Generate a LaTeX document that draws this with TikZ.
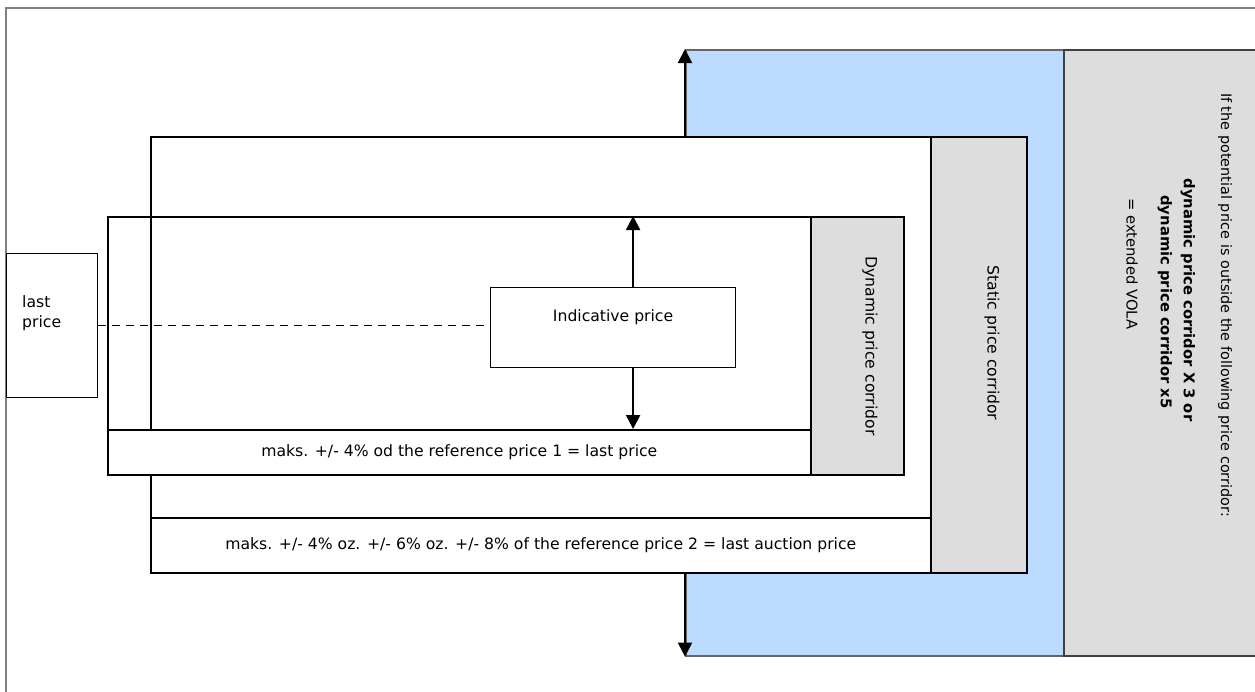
\documentclass[tikz,border=0pt]{standalone}
\usepackage{fontspec}
\setmainfont{DejaVu Sans}
\usepackage{tikz}
\usetikzlibrary{arrows.meta,positioning}
\definecolor{volablue}{RGB}{189,219,255}
\definecolor{corrgray}{RGB}{221,221,221}
\definecolor{framegray}{RGB}{128,128,128}

\begin{document}
\begin{tikzpicture}[x=0.02cm,y=-0.02cm,
every node/.style={font=\fontsize{8.9}{11}\selectfont},
box/.style={rectangle,draw,fill=white,anchor=north west,inner sep=0pt,line width=1pt},
corridor/.style={box,fill=corrgray},
vlabel/.style={rotate=-90,inner sep=1pt},
arrow/.style={-{Triangle[length=2.8mm,width=2.8mm]},line width=1.2pt}]
\useasboundingbox (0,0) rectangle (1255,691);
\draw[framegray,line width=1.2pt] (6,720) -- (6,8) -- (1280,8);
\node[box,fill=volablue,draw=black!60,minimum width=7.56cm,minimum height=12.12cm] (vola) at (685,49) {};
\node[corridor,draw=black!75,minimum width=4.2cm,minimum height=12.12cm] (extvola) at (1063,49) {};
\node[vlabel,font=\fontsize{8.2}{10}\selectfont] (cond) at (1225,305) {If the potential price is outside the following price corridor:};
\node[vlabel,font=\fontsize{8.4}{10}\selectfont\bfseries] (times3) at (1188,300) {dynamic price corridor X 3 or};
\node[vlabel,font=\fontsize{8.4}{10}\selectfont\bfseries] (times5) at (1165,302) {dynamic price corridor x5};
\node[vlabel,font=\fontsize{8.4}{10}\selectfont,anchor=west] (extlabel) at (1132,196) {= extended VOLA};
% static corridor
\node[box,minimum width=15.6cm,minimum height=8.72cm] (static) at (150,136) {};
\node[corridor,minimum width=1.92cm,minimum height=8.72cm] (statgray) at (930,136) {};
\node[vlabel] (statlabel) at (992,343) {Static price corridor};
\node[box,minimum width=15.6cm,minimum height=1.1cm] (refb) at (150,517) {maks. +/- 4\% oz. +/- 6\% oz. +/- 8\% of the reference price 2 = last auction price};
% dynamic corridor
\node[box,fill=none,line width=1.4pt,minimum width=15.92cm,minimum height=5.16cm] (dynamic) at (107,216) {};
\node[corridor,minimum width=1.86cm,minimum height=5.16cm] (dyngray) at (810,216) {};
\node[vlabel] (dynlabel) at (870,346) {Dynamic price corridor};
\node[box,minimum width=14.06cm,minimum height=0.9cm] (refa) at (107,429) {maks. +/- 4\% od the reference price 1 = last price};
\node[box,line width=0.7pt,minimum width=4.9cm,minimum height=1.6cm,text height=0.22cm,text depth=0.45cm] (indic) at (490,287) {Indicative price};
\node[box,line width=0.8pt,minimum width=1.82cm,minimum height=2.88cm,align=left,text width=1.2cm,text depth=0.95cm] (last) at (6,253) {last\\price};
\draw[dashed,line width=0.7pt,dash pattern=on 0.16cm off 0.12cm] (last.east) -- (last.east -| indic.west);
\coordinate (move) at ([xshift=0.4cm]indic.north);
\coordinate (movedown) at ([xshift=0.4cm]indic.south);
\draw[arrow] (move) -- (move |- dynamic.north);
\draw[arrow] (movedown) -- (movedown |- refa.north);
\draw[arrow] (vola.west |- static.north) -- (vola.north west);
\draw[arrow] (vola.west |- static.south) -- (vola.south west);
\end{tikzpicture}
\end{document}
